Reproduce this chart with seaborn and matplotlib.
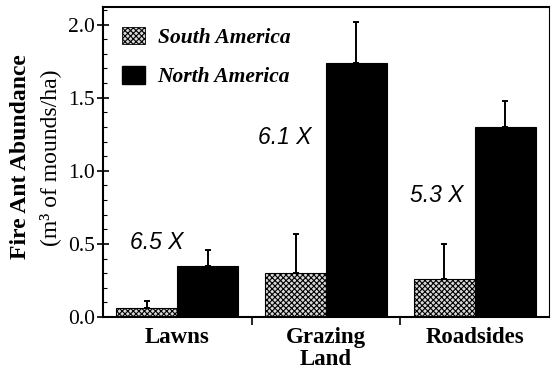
import matplotlib
matplotlib.use("Agg")
import matplotlib.pyplot as plt
import seaborn as sns
import pandas as pd
from matplotlib.patches import Patch
from matplotlib.ticker import MultipleLocator

sns.set_theme(style="white")
plt.rcParams["font.family"] = ["Liberation Serif", "DejaVu Serif"]
plt.rcParams["hatch.linewidth"] = 0.8
for key in ["text.color", "axes.labelcolor", "xtick.color", "ytick.color"]:
    plt.rcParams[key] = "black"

habitats = ["Lawns", "Grazing\nLand", "Roadsides"]
regions = ["South America", "North America"]
south_mean = [0.06, 0.30, 0.26]
south_err = [0.05, 0.27, 0.24]
north_mean = [0.35, 1.74, 1.30]
north_err = [0.11, 0.28, 0.18]
ratio_labels = ["6.5 X", "6.1 X", "5.3 X"]

df = pd.DataFrame({
    "habitat": habitats * 2,
    "region": [regions[0]] * 3 + [regions[1]] * 3,
    "abundance": south_mean + north_mean,
})

fig = plt.figure(figsize=(5.57, 3.75), dpi=100)
ax = fig.add_axes([103 / 557, 1 - 317 / 375, 446 / 557, 310 / 375])

sns.barplot(data=df, x="habitat", y="abundance", hue="region",
            order=habitats, hue_order=regions, errorbar=None,
            width=0.82, ax=ax, legend=False,
            palette={regions[0]: "white", regions[1]: "black"},
            edgecolor="black", linewidth=0.8, saturation=1)

# stippled fill for the South America bars
for bar in ax.containers[0]:
    bar.set_hatch("xxxxxx")
    bar.set_facecolor("#d8d8d8")

# one-sided error bars above each bar
for cont, errs in zip(ax.containers, [south_err, north_err]):
    for bar, e in zip(cont, errs):
        xc = bar.get_x() + bar.get_width() / 2
        top = bar.get_height()
        ax.errorbar([xc], [top], yerr=[[0], [e]], fmt="none",
                    ecolor="black", elinewidth=1.4, capsize=2.5, capthick=1.4)

ax.set_xlim(-0.5, 2.5)
ax.set_ylim(0, 2.12)
ax.yaxis.set_minor_locator(MultipleLocator(0.1))
ax.set_yticks([0, 0.5, 1.0, 1.5, 2.0])
ax.set_yticklabels(["0.0", "0.5", "1.0", "1.5", "2.0"], fontsize=15.5)
ax.tick_params(axis="y", which="major", direction="inout", length=8, width=1.2, left=True, pad=2)
ax.tick_params(axis="y", which="minor", direction="in", length=3, width=0.8, left=True)
ax.set_xticks([0.5, 1.5], minor=True)
ax.tick_params(axis="x", which="minor", direction="out", length=6, width=1.2, bottom=True)
ax.tick_params(axis="x", which="major", length=0, pad=7)
ax.set_xticks([0, 1, 2])
ax.set_xticklabels(habitats, fontsize=16.5, fontweight="bold", linespacing=1.1)
ax.set_xlabel("")
ax.set_ylabel("")

for side in ["left", "bottom", "top"]:
    ax.spines[side].set_linewidth(1.5)
    ax.spines[side].set_color("black")
ax.spines["right"].set_linewidth(0.8)
ax.spines["right"].set_color("black")

fig.text(21 / 557, 1 - 157 / 375, "Fire Ant Abundance", rotation=90,
         ha="center", va="center", fontsize=17, fontweight="bold")
fig.text(50 / 557, 1 - 158 / 375, "(m³ of mounds/ha)", rotation=90,
         ha="center", va="center", fontsize=17)

# fold-increase labels
ratio_pos = [(-0.14, 0.51), (0.72, 1.23), (1.745, 0.83)]
for (xv, yv), txt in zip(ratio_pos, ratio_labels):
    ax.text(xv, yv, txt, ha="center", va="center", fontsize=16.5,
            style="italic", family=["Liberation Sans", "DejaVu Sans"], zorder=5)

handles = [Patch(facecolor="#d8d8d8", edgecolor="black", hatch="xxxxxx", linewidth=0.6),
           Patch(facecolor="black", edgecolor="black")]
leg = ax.legend(handles, regions, loc="upper left", frameon=False,
                prop={"size": 15.5, "style": "italic", "weight": "bold",
                      "family": "Liberation Serif"},
                handlelength=1.05, handleheight=0.85, handletextpad=0.6,
                borderaxespad=0, borderpad=0, labelspacing=0.85,
                bbox_to_anchor=(19 / 446, 1 - 20 / 310))

fig.savefig("out.png", dpi=100, facecolor="white")
